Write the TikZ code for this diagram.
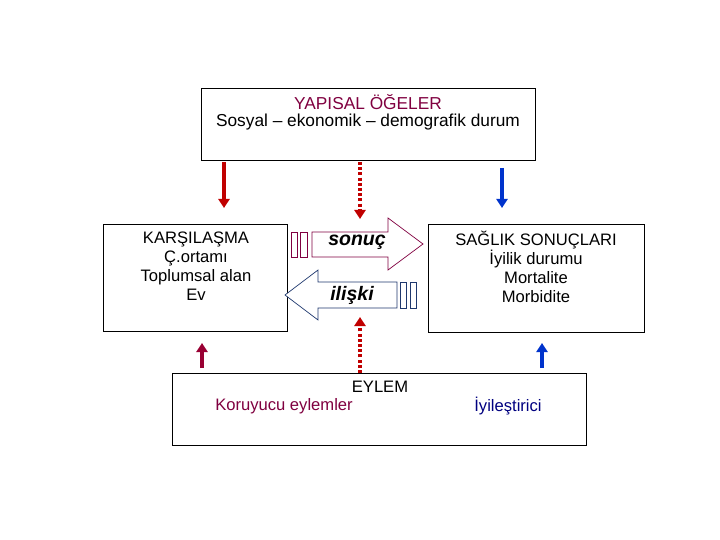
\documentclass[tikz,border=0pt]{standalone}
\usepackage{fontspec}
\setmainfont{Liberation Sans}
\usetikzlibrary{arrows.meta}
\definecolor{maroon}{RGB}{128,0,64}
\definecolor{arrred}{RGB}{192,0,0}
\definecolor{darkred}{RGB}{153,0,51}
\definecolor{arrblue}{RGB}{0,51,204}
\definecolor{navy}{RGB}{0,0,128}
\definecolor{outblue}{RGB}{31,56,110}
\begin{document}
\begin{tikzpicture}[x=1pt,y=-1pt,
  box/.style={draw=black,line width=0.8pt,fill=white},
  txt/.style={font=\fontsize{16.6}{19}\selectfont,align=center,inner sep=0pt},
  bigtxt/.style={font=\fontsize{17.3}{20}\selectfont,align=center,inner sep=0pt},
  arrtxt/.style={font=\fontsize{19.5}{21}\selectfont\bfseries\itshape,inner sep=0pt},
  thickarr/.style={line width=3.5pt,-{Triangle[width=11pt,length=9pt]}},
  dotarr/.style={line width=3.5pt,dash pattern=on 3pt off 2.2pt,-{Triangle[width=11pt,length=9pt]}},
  bigarr/.style={line width=0.7pt,fill=white}]
\useasboundingbox (0,0) rectangle (720,540);
% boxes
\draw[box] (201,88) rectangle (535,160);
\draw[box] (103,224) rectangle (287,331);
\draw[box] (428,224) rectangle (644,332);
\draw[box] (172,373) rectangle (586,445);
\coordinate (topL) at (224,162);
\coordinate (topM) at (360,162);
\coordinate (topR) at (502,168);
\coordinate (leftT) at (224,208);
\coordinate (midT) at (360,219);
\coordinate (rightT) at (502,208);
\coordinate (botL) at (202,368);
\coordinate (botLs) at (202,343);
\coordinate (botR) at (542,368);
\coordinate (botRs) at (542,343);
\coordinate (botM) at (360,373);
\coordinate (midB) at (360,317);
% texts
\node[bigtxt] (t1) at (368,102) {\textcolor{maroon}{YAPISAL ÖĞELER}};
\node[bigtxt] (t2) at (368,122) {Sosyal – ekonomik – demografik durum};
\node[txt,anchor=north] (left) at (196,232) {KARŞILAŞMA\\Ç.ortamı\\Toplumsal alan\\Ev};
\node[txt,anchor=north] (right) at (536,231) {SAĞLIK SONUÇLARI\\İyilik durumu\\Mortalite\\Morbidite};
\node[txt] (eylem) at (380,387) {EYLEM};
\node[txt,text=maroon] (kor) at (284,406) {Koruyucu eylemler};
\node[txt,text=navy] (iyi) at (508,406) {İyileştirici};
% arrows
\draw[thickarr,arrred] (topL) -- (leftT);
\draw[dotarr,arrred] (topM) -- (midT);
\draw[thickarr,arrblue] (topR) -- (rightT);
\draw[thickarr,darkred] (botL) -- (botLs);
\draw[thickarr,arrblue] (botR) -- (botRs);
\draw[dotarr,arrred] (botM) -- (midB);
% block arrows
\draw[bigarr,draw=maroon] (312,232) -- (388,232) -- (388,218) -- (423,244) -- (388,270) -- (388,257) -- (312,257) -- cycle;
\draw[bigarr,draw=maroon] (291,232) rectangle (297,257);
\draw[bigarr,draw=maroon] (300,232) rectangle (307,257);
\node[arrtxt] (sonuc) at (357,242) {sonuç};
\draw[bigarr,draw=outblue] (285,295) -- (318,270) -- (318,282) -- (397,282) -- (397,308) -- (318,308) -- (318,320) -- cycle;
\draw[bigarr,draw=outblue] (400,282) rectangle (406.5,308);
\draw[bigarr,draw=outblue] (410,282) rectangle (416.5,308);
\node[arrtxt] (iliski) at (352,295) {ilişki};
\end{tikzpicture}
\end{document}
